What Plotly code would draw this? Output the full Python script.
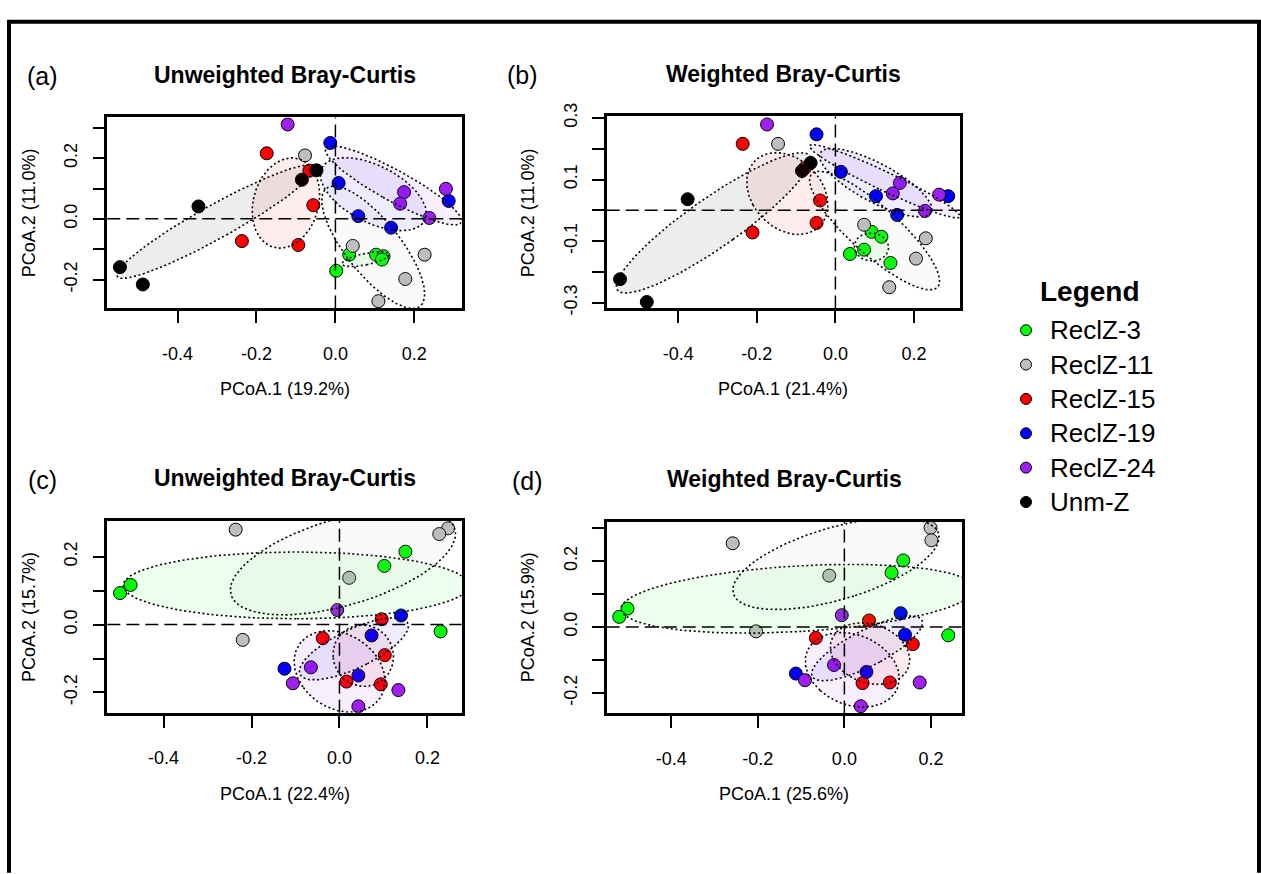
import numpy as np
import plotly.graph_objects as go

W, H = 1261, 874
FONT = "Liberation Sans, Arial, sans-serif"

groups = ["ReclZ-3", "ReclZ-11", "ReclZ-15", "ReclZ-19", "ReclZ-24", "Unm-Z"]
colors = ["#00FF00", "#BEBEBE", "#FF0000", "#0000FF", "#A020F0", "#000000"]

# Panel (a) Unweighted Bray-Curtis, groups in order of `groups`
a_x = [[0.035, 0.103, 0.122, 0.118, 0.002],
       [-0.077, 0.044, 0.226, 0.177, 0.109],
       [-0.174, -0.066, -0.056, -0.237, -0.094],
       [-0.013, 0.008, 0.287, 0.058, 0.141],
       [-0.121, 0.280, 0.174, 0.164, 0.238],
       [-0.546, -0.488, -0.347, -0.085, -0.048]]
a_y = [[-0.118, -0.118, -0.123, -0.134, -0.171],
       [0.209, -0.089, -0.118, -0.198, -0.271],
       [0.216, 0.159, 0.045, -0.073, -0.086],
       [0.250, 0.118, 0.059, 0.009, -0.029],
       [0.311, 0.099, 0.088, 0.050, 0.003],
       [-0.159, -0.216, 0.041, 0.129, 0.160]]

# Panel (b) Weighted Bray-Curtis
b_x = [[0.092, 0.117, 0.073, 0.037, 0.140],
       [-0.146, 0.073, 0.230, 0.205, 0.137],
       [-0.236, -0.078, -0.039, -0.048, -0.211],
       [-0.048, 0.014, 0.103, 0.287, 0.157],
       [-0.174, 0.164, 0.146, 0.264, 0.228],
       [-0.548, -0.480, -0.376, -0.085, -0.063]]
b_y = [[-0.070, -0.086, -0.128, -0.142, -0.171],
       [0.216, -0.047, -0.091, -0.157, -0.250],
       [0.216, 0.137, 0.032, -0.041, -0.072],
       [0.247, 0.125, 0.046, 0.046, -0.015],
       [0.279, 0.089, 0.055, 0.051, -0.002],
       [-0.224, -0.298, 0.036, 0.128, 0.154]]

# Panel (c) Unweighted Bray-Curtis (no Unm-Z)
c_x = [[0.150, 0.102, -0.475, -0.499, 0.230],
       [-0.236, 0.247, 0.227, 0.022, -0.220],
       [0.096, -0.038, 0.103, 0.016, 0.094],
       [0.140, 0.073, -0.125, 0.043],
       [-0.005, -0.065, -0.106, 0.134, 0.043],
       []]
c_y = [[0.215, 0.173, 0.117, 0.093, -0.020],
       [0.280, 0.284, 0.267, 0.138, -0.045],
       [0.016, -0.040, -0.090, -0.168, -0.176],
       [0.027, -0.032, -0.130, -0.150],
       [0.043, -0.126, -0.173, -0.193, -0.241],
       []]

# Panel (d) Weighted Bray-Curtis (no Unm-Z)
d_x = [[0.136, 0.109, -0.501, -0.520, 0.240],
       [0.199, 0.201, -0.258, -0.035, -0.204],
       [0.057, -0.066, 0.158, 0.042, 0.105],
       [0.130, 0.140, -0.112, 0.051],
       [-0.006, -0.024, -0.091, 0.174, 0.038],
       []]
d_y = [[0.202, 0.165, 0.056, 0.031, -0.025],
       [0.301, 0.263, 0.254, 0.156, -0.013],
       [0.020, -0.033, -0.052, -0.170, -0.168],
       [0.042, -0.023, -0.141, -0.136],
       [0.036, -0.115, -0.161, -0.168, -0.240],
       []]

titles = ["Unweighted Bray-Curtis", "Weighted Bray-Curtis",
          "Unweighted Bray-Curtis", "Weighted Bray-Curtis"]
panel_tags = ["(a)", "(b)", "(c)", "(d)"]
xlabels = ["PCoA.1 (19.2%)", "PCoA.1 (21.4%)", "PCoA.1 (22.4%)", "PCoA.1 (25.6%)"]
ylabels = ["PCoA.2 (11.0%)", "PCoA.2 (11.0%)", "PCoA.2 (15.7%)", "PCoA.2 (15.9%)"]
xticks = [-0.4, -0.2, 0.0, 0.2]
xticklabels = ["-0.4", "-0.2", "0.0", "0.2"]
yticks_a = [-0.3, -0.2, -0.1, 0.0, 0.1, 0.2, 0.3]
yticklabels_a = ["", "-0.2", "", "0.0", "", "0.2", ""]
yticklabels_b = ["-0.3", "", "-0.1", "", "0.1", "", "0.3"]

# layout (pixel boxes of each panel: left, top, right, bottom)
boxes = [(107.3, 106, 461.7, 301.7), (606.7, 105, 960, 301.7),
         (107.3, 519.3, 461.7, 716), (606.7, 520, 961.7, 716.7)]
xranges = [(-0.578, 0.320), (-0.582, 0.317), (-0.528, 0.278), (-0.549, 0.271)]
yranges = [(-0.295, 0.334), (-0.319, 0.305), (-0.260, 0.306), (-0.262, 0.320)]
yt_vals = [yticks_a, yticks_a, yticks_a[1:6], yticks_a]
yt_text = [yticklabels_a, yticklabels_b, yticklabels_a[1:6], yticklabels_a]


def pxf(x):
    return x / W


def pyf(y):
    return 1 - y / H


def rgba(hexc, a):
    h = hexc.lstrip("#")
    return "rgba(%d,%d,%d,%g)" % (int(h[0:2], 16), int(h[2:4], 16), int(h[4:6], 16), a)


def ellipse(x, y, scale=1.1, n=160):
    x = np.asarray(x, float)
    y = np.asarray(y, float)
    cov = np.cov(x, y)
    vals, vecs = np.linalg.eigh(cov)
    vals = np.clip(vals, 0, None)
    t = np.linspace(0, 2 * np.pi, n)
    circ = np.vstack([np.cos(t), np.sin(t)])
    pts = vecs @ (np.sqrt(vals)[:, None] * circ) * scale
    return x.mean() + pts[0], y.mean() + pts[1]


fig = go.Figure()
panels = [(a_x, a_y), (b_x, b_y), (c_x, c_y), (d_x, d_y)]
shapes = []
annotations = []
layout_axes = {}

for p, (px_, py_) in enumerate(panels):
    xa = "x" if p == 0 else "x%d" % (p + 1)
    ya = "y" if p == 0 else "y%d" % (p + 1)
    # points
    for g in range(len(groups)):
        if len(px_[g]) == 0:
            continue
        fig.add_trace(go.Scatter(
            x=px_[g], y=py_[g], mode="markers", xaxis=xa, yaxis=ya,
            marker=dict(size=13, color=colors[g], line=dict(color="black", width=1)),
            showlegend=False, hoverinfo="skip"))
    # ellipses (group sd ellipses computed from the points)
    for g in range(len(groups)):
        if len(px_[g]) < 3:
            continue
        ex, ey = ellipse(px_[g], py_[g])
        fig.add_trace(go.Scatter(
            x=ex, y=ey, mode="lines", xaxis=xa, yaxis=ya, fill="toself",
            fillcolor=rgba(colors[g], 0.07),
            line=dict(color="black", width=1.6, dash="2px,2.6px"),
            showlegend=False, hoverinfo="skip"))

    l, t, r, b = boxes[p]
    kx = "xaxis" if p == 0 else "xaxis%d" % (p + 1)
    ky = "yaxis" if p == 0 else "yaxis%d" % (p + 1)
    layout_axes[kx] = dict(
        domain=[pxf(l), pxf(r)], range=list(xranges[p]), anchor=ya,
        showline=True, linecolor="black", linewidth=2.5, mirror=True,
        ticks="outside", ticklen=12, tickwidth=1.5, tickcolor="black",
        tickvals=xticks, ticktext=xticklabels, ticklabelstandoff=15,
        tickfont=dict(size=18, color="black", family=FONT),
        showgrid=False, zeroline=False)
    layout_axes[ky] = dict(
        domain=[pyf(b), pyf(t)], range=list(yranges[p]), anchor=xa,
        showline=True, linecolor="black", linewidth=2.5, mirror=True,
        ticks="outside", ticklen=12, tickwidth=1.5, tickcolor="black",
        tickvals=yt_vals[p], ticktext=yt_text[p], tickangle=-90,
        ticklabelstandoff=8,
        tickfont=dict(size=18, color="black", family=FONT),
        showgrid=False, zeroline=False)

    # dashed zero lines
    shapes.append(dict(type="line", xref=xa, yref=ya + " domain", x0=0, x1=0, y0=0, y1=1,
                       line=dict(color="black", width=1.5, dash="13px,6px")))
    shapes.append(dict(type="line", xref=xa + " domain", yref=ya, x0=0, x1=1, y0=0, y1=0,
                       line=dict(color="black", width=1.5, dash="13px,6px")))

    cx = (l + r) / 2
    # title
    annotations.append(dict(text="<b>%s</b>" % titles[p], x=pxf(cx), y=pyf(t - 44),
                            xref="paper", yref="paper", showarrow=False,
                            xanchor="center", yanchor="middle",
                            font=dict(size=23, color="black", family=FONT)))
    # panel tag
    tagx = [43, 522, 42, 527][p]
    annotations.append(dict(text=panel_tags[p], x=pxf(tagx), y=pyf(t - 42),
                            xref="paper", yref="paper", showarrow=False,
                            xanchor="center", yanchor="middle",
                            font=dict(size=25, color="black", family=FONT)))
    # x label
    annotations.append(dict(text=xlabels[p], x=pxf(cx), y=pyf(b + 83),
                            xref="paper", yref="paper", showarrow=False,
                            xanchor="center", yanchor="middle",
                            font=dict(size=18, color="black", family=FONT)))
    # y label
    annotations.append(dict(text=ylabels[p], x=pxf(l - 78), y=pyf((t + b) / 2),
                            xref="paper", yref="paper", showarrow=False, textangle=-90,
                            xanchor="center", yanchor="middle",
                            font=dict(size=18, color="black", family=FONT)))

# legend drawn on its own hidden axis pair
leg_idx = list(range(len(groups)))
fig.add_trace(go.Scatter(
    x=[0] * len(groups), y=leg_idx, mode="markers", xaxis="x5", yaxis="y5",
    marker=dict(size=11, color=colors, line=dict(color="black", width=1)),
    showlegend=False, hoverinfo="skip"))
layout_axes["xaxis5"] = dict(domain=[pxf(1006), pxf(1206)], range=[-20, 180], anchor="y5",
                             visible=False)
layout_axes["yaxis5"] = dict(domain=[pyf(517.6), pyf(306.4)], range=[5.5, -0.5], anchor="x5",
                             visible=False)
for i, g in enumerate(groups):
    annotations.append(dict(text=g, x=22, y=i, xref="x5", yref="y5", showarrow=False,
                            xanchor="left", yanchor="middle",
                            font=dict(size=26, color="black", family=FONT)))
annotations.append(dict(text="<b>Legend</b>", x=pxf(1090), y=pyf(284), xref="paper", yref="paper",
                        showarrow=False, xanchor="center", yanchor="middle",
                        font=dict(size=28, color="black", family=FONT)))

# outer frame (top, left, right)
shapes.append(dict(type="path", xref="paper", yref="paper",
                   path="M %f %f L %f %f L %f %f L %f %f" % (
                       pxf(9), pyf(880), pxf(9), pyf(8), pxf(1259), pyf(8), pxf(1259), pyf(880)),
                   line=dict(color="black", width=4)))

fig.update_layout(
    width=W, height=H, margin=dict(l=0, r=0, t=0, b=0),
    paper_bgcolor="white", plot_bgcolor="white",
    shapes=shapes, annotations=annotations, showlegend=False,
    font=dict(family=FONT, color="black"),
    **layout_axes)

fig.write_html("out.html")
